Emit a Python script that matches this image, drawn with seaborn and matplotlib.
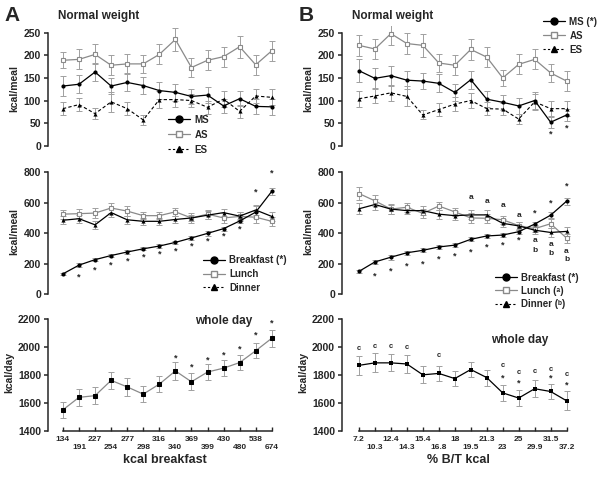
import numpy as np
import seaborn as sns
import matplotlib.pyplot as plt
from matplotlib.lines import Line2D

# x categories (14 groups per panel)
kcal_breakfast = ['134', '191', '227', '254', '277', '298', '316', '340', '369', '399', '430', '480', '538', '674']
pct_bt = ['7.2', '10.3', '12.4', '14.3', '15.4', '16.8', '18', '19.5', '21.3', '23', '25', '29.9', '31.5', '37.2']

# panel A, normal weight snacks (kcal/meal)
a_ms = [132, 136, 163, 132, 140, 133, 122, 118, 109, 112, 88, 104, 87, 86]
a_ms_err = [22, 20, 20, 18, 20, 18, 18, 18, 17, 18, 15, 16, 17, 17]
a_as = [189, 191, 202, 178, 181, 181, 202, 235, 173, 189, 197, 219, 179, 210]
a_as_err = [18, 22, 22, 22, 22, 20, 22, 26, 20, 22, 22, 24, 22, 22]
a_es = [82, 91, 71, 97, 82, 57, 102, 102, 100, 85, 103, 76, 110, 107]
a_es_err = [14, 15, 12, 22, 14, 12, 18, 16, 14, 15, 18, 14, 16, 18]

# panel A, main meals
a_bf = [134, 191, 227, 254, 277, 298, 316, 340, 369, 399, 430, 480, 538, 674]
a_bf_err = [8, 12, 10, 10, 10, 10, 12, 12, 12, 14, 14, 15, 40, 25]
a_lu = [525, 528, 532, 565, 545, 515, 515, 540, 500, 525, 500, 510, 505, 478]
a_lu_err = [30, 28, 35, 30, 30, 25, 25, 28, 30, 30, 35, 30, 40, 30]
a_di = [485, 495, 455, 535, 488, 478, 478, 490, 500, 518, 535, 512, 552, 510]
a_di_err = [25, 25, 28, 30, 25, 22, 22, 25, 22, 25, 25, 25, 30, 28]

# panel A, whole day (kcal/day)
a_day = [1550, 1640, 1652, 1762, 1715, 1663, 1735, 1830, 1752, 1822, 1850, 1890, 1975, 2065]
a_day_err = [60, 60, 60, 62, 65, 55, 60, 65, 60, 60, 60, 55, 55, 60]

# panel B, normal weight snacks
b_ms = [166, 149, 155, 145, 143, 138, 118, 146, 103, 96, 88, 100, 52, 68]
b_ms_err = [25, 22, 22, 20, 18, 20, 18, 20, 18, 16, 18, 18, 12, 14]
b_as = [222, 214, 248, 226, 222, 183, 178, 213, 196, 150, 180, 191, 161, 143]
b_as_err = [24, 22, 26, 24, 26, 20, 22, 24, 22, 18, 22, 22, 20, 22]
b_es = [104, 110, 117, 109, 68, 80, 92, 100, 82, 81, 59, 97, 82, 82]
b_es_err = [18, 16, 18, 22, 10, 14, 16, 16, 14, 14, 12, 18, 16, 16]

# panel B, main meals
b_bf = [150, 212, 243, 272, 288, 310, 322, 360, 382, 388, 410, 460, 518, 610]
b_bf_err = [8, 14, 16, 12, 12, 12, 12, 14, 14, 14, 14, 16, 18, 22]
b_lu = [660, 612, 558, 570, 530, 578, 540, 500, 498, 488, 450, 430, 462, 368]
b_lu_err = [45, 35, 30, 30, 30, 28, 28, 30, 30, 28, 25, 25, 30, 30]
b_di = [560, 588, 558, 548, 548, 525, 515, 520, 520, 465, 448, 420, 405, 412]
b_di_err = [35, 35, 35, 25, 30, 30, 30, 30, 30, 25, 25, 25, 30, 30]

# panel B, whole day
b_day = [1870, 1888, 1888, 1880, 1802, 1812, 1775, 1840, 1782, 1672, 1635, 1702, 1682, 1615]
b_day_err = [70, 68, 62, 68, 60, 55, 55, 55, 58, 55, 55, 60, 55, 68]

# significance marks: (index, y in data units)
a_mid_stars = [(1, 115), (2, 159), (3, 192), (4, 218), (5, 246), (6, 264), (7, 285),
               (8, 316), (9, 351), (10, 381), (11, 427), (12, 667), (13, 791)]
a_day_stars = [(7, 1920), (8, 1860), (9, 1908), (10, 1944), (11, 1984), (12, 2087), (13, 2171)]
b_top_stars = [(12, 25), (13, 39)]
b_mid_stars = [(1, 119), (2, 154), (3, 187), (4, 198), (5, 231), (6, 253), (7, 275),
               (8, 310), (9, 323), (10, 358), (11, 532), (12, 600), (13, 708)]
b_mid_a = [(7, 631), (8, 609), (9, 582), (10, 516), (11, 352), (12, 325), (13, 279)]
b_mid_b = [(11, 286), (12, 264), (13, 226)]
b_day_c = [(0, 1992), (1, 2004), (2, 2004), (3, 1999), (5, 1939), (9, 1866),
           (10, 1818), (11, 1824), (12, 1842), (13, 1806)]
b_day_stars = [(9, 1776), (10, 1740), (12, 1782), (13, 1730)]

sns.set_style('ticks')
plt.rcParams['font.family'] = ['Liberation Sans', 'DejaVu Sans']
plt.rcParams['font.weight'] = 'bold'

fig = plt.figure(figsize=(6, 4.8), dpi=100)
x = np.arange(14)
GRAY = '#8a8a8a'
EBAR = '#a0a0a0'


def series(ax, y, err, style):
    ax.errorbar(x, y, yerr=err, fmt='none', ecolor=EBAR, elinewidth=0.7, capsize=2, capthick=0.7, zorder=1)
    sns.lineplot(x=x, y=y, ax=ax, zorder=3, **style)


ms_style = dict(color='black', marker='o', markersize=3, markeredgewidth=0, linewidth=0.9)
as_style = dict(color=GRAY, marker='s', markersize=3.5, markerfacecolor='white',
                markeredgecolor=GRAY, markeredgewidth=0.8, linewidth=0.9)
es_style = dict(color='black', marker='^', markersize=3, markeredgewidth=0, linewidth=0.8, linestyle=(0, (3, 2)))
di_style = dict(color='black', marker='^', markersize=3, markeredgewidth=0, linewidth=0.9)
day_a_style = dict(color=GRAY, marker='s', markersize=3, markerfacecolor='black',
                   markeredgecolor='black', linewidth=0.9)
day_b_style = dict(color='black', marker='s', markersize=3, markeredgewidth=0, linewidth=0.9)

h_ms = Line2D([], [], color='black', marker='o', markersize=5, linewidth=0.9)
h_as = Line2D([], [], color=GRAY, marker='s', markersize=5, markerfacecolor='white', markeredgecolor=GRAY, linewidth=0.9)
h_es = Line2D([], [], color='black', marker='^', markersize=5, linewidth=0.8, linestyle=(0, (2, 2)))


def style_ax(ax, ylim, yticks, ylabel, bottom=False, xlabels=None, xlim=(-0.93, 13.6)):
    ax.patch.set_visible(False)
    ax.set_xlim(*xlim)
    ax.set_ylim(*ylim)
    ax.set_yticks(yticks)
    ax.spines['left'].set_bounds(yticks[0], yticks[-1])
    ax.spines['left'].set_linewidth(1.1)
    for s in ['top', 'right']:
        ax.spines[s].set_visible(False)
    ax.tick_params(axis='y', direction='out', length=3, width=1.1, labelsize=7.5, pad=2)
    ax.set_ylabel(ylabel, fontsize=7.5, fontweight='bold', labelpad=3)
    ax.set_xlabel('')
    if bottom:
        ax.spines['bottom'].set_bounds(0, 13)
        ax.spines['bottom'].set_linewidth(1.1)
        ax.set_xticks(x)
        labs = [l if i % 2 == 0 else '\n' + l for i, l in enumerate(xlabels)]
        ax.set_xticklabels(labs, fontsize=6, linespacing=1.1)
        ax.tick_params(axis='x', direction='in', length=3, width=1, pad=4)
    else:
        ax.spines['bottom'].set_visible(False)
        ax.set_xticks([])
    for t in ax.get_yticklabels() + ax.get_xticklabels():
        t.set_fontweight('bold')


def marks(ax, pts, s, size=6.5):
    for i, yv in pts:
        ax.text(i, yv, s, ha='center', va='center', fontsize=size, fontweight='bold')


def add_legend(ax, labels, anchor, spacing):
    leg = ax.legend([h_ms, h_as, h_es], labels, loc='upper left', bbox_to_anchor=anchor,
                    bbox_transform=fig.transFigure, frameon=False, fontsize=7, handlelength=2.3,
                    handletextpad=0.4, labelspacing=spacing, borderpad=0)
    leg.set_zorder(10)


# ---------- panel A ----------
ax1 = fig.add_axes([0.08, 0.687, 0.389, 0.259])
series(ax1, a_as, a_as_err, as_style)
series(ax1, a_ms, a_ms_err, ms_style)
series(ax1, a_es, a_es_err, es_style)
style_ax(ax1, (-10, 265), [0, 50, 100, 150, 200, 250], 'kcal/meal')
add_legend(ax1, ['MS', 'AS', 'ES'], (0.272, 0.771), 0.5)

ax2 = fig.add_axes([0.08, 0.3773, 0.389, 0.280])
series(ax2, a_lu, a_lu_err, as_style)
series(ax2, a_di, a_di_err, di_style)
series(ax2, a_bf, a_bf_err, ms_style)
style_ax(ax2, (-30, 850), [0, 200, 400, 600, 800], 'kcal/meal')
marks(ax2, a_mid_stars, '*')
add_legend(ax2, ['Breakfast (*)', 'Lunch', 'Dinner'], (0.33, 0.478), 0.38)

ax3 = fig.add_axes([0.08, 0.1027, 0.389, 0.2433])
series(ax3, a_day, a_day_err, day_a_style)
style_ax(ax3, (1400, 2240), [1400, 1600, 1800, 2000, 2200], 'kcal/day', bottom=True, xlabels=kcal_breakfast)
marks(ax3, a_day_stars, '*')
ax3.text(0.63, 0.94, 'whole day', transform=ax3.transAxes, fontsize=8.5, fontweight='bold', va='center')
ax3.set_xlabel('kcal breakfast', fontsize=9, fontweight='bold', labelpad=2)

# ---------- panel B ----------
bx = (-1.06, 13.55)
ax4 = fig.add_axes([0.57, 0.687, 0.389, 0.259])
series(ax4, b_as, b_as_err, as_style)
series(ax4, b_ms, b_ms_err, ms_style)
series(ax4, b_es, b_es_err, es_style)
style_ax(ax4, (-10, 265), [0, 50, 100, 150, 200, 250], 'kcal/meal', xlim=bx)
marks(ax4, b_top_stars, '*')
add_legend(ax4, ['MS (*)', 'AS', 'ES'], (0.897, 0.975), 0.4)

ax5 = fig.add_axes([0.57, 0.3773, 0.389, 0.280])
series(ax5, b_lu, b_lu_err, as_style)
series(ax5, b_di, b_di_err, di_style)
series(ax5, b_bf, b_bf_err, ms_style)
style_ax(ax5, (-30, 850), [0, 200, 400, 600, 800], 'kcal/meal', xlim=bx)
marks(ax5, b_mid_stars, '*')
marks(ax5, b_mid_a, 'a', size=6)
marks(ax5, b_mid_b, 'b', size=6)
add_legend(ax5, ['Breakfast (*)', 'Lunch (ᵃ)', 'Dinner (ᵇ)'], (0.817, 0.442), 0.32)

ax6 = fig.add_axes([0.57, 0.1027, 0.389, 0.2433])
series(ax6, b_day, b_day_err, day_b_style)
style_ax(ax6, (1400, 2240), [1400, 1600, 1800, 2000, 2200], 'kcal/day', bottom=True, xlabels=pct_bt, xlim=bx)
marks(ax6, b_day_c, 'c', size=5.5)
marks(ax6, b_day_stars, '*')
ax6.text(0.64, 0.78, 'whole day', transform=ax6.transAxes, fontsize=8.5, fontweight='bold', va='center')
ax6.set_xlabel('% B/T kcal', fontsize=9, fontweight='bold', labelpad=2)

# headings
fig.text(0.008, 0.968, 'A', fontsize=15, fontweight='bold', va='center')
fig.text(0.097, 0.966, 'Normal weight', fontsize=8.5, fontweight='bold', va='center')
fig.text(0.498, 0.968, 'B', fontsize=15, fontweight='bold', va='center')
fig.text(0.587, 0.966, 'Normal weight', fontsize=8.5, fontweight='bold', va='center')

fig.savefig('out.png', dpi=100)
